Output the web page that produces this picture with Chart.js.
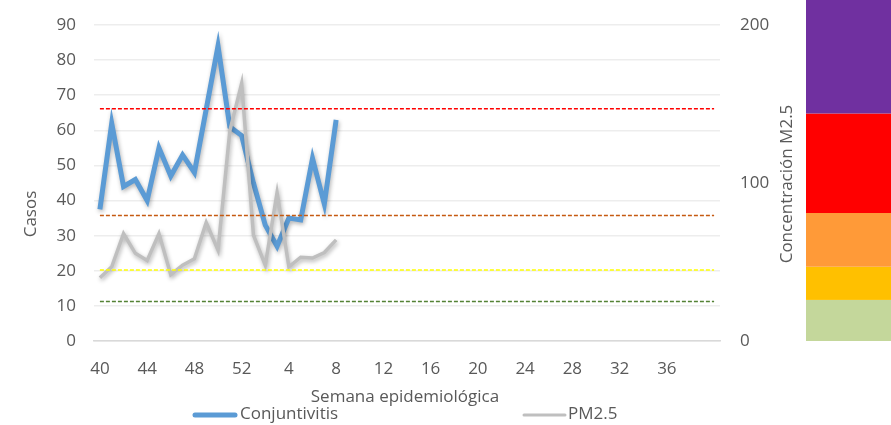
<!DOCTYPE html>
<html>
<head>
<meta charset="utf-8">
<script src="https://cdn.jsdelivr.net/npm/chart.js@4/dist/chart.umd.min.js"></script>
<style>
  html, body { margin: 0; padding: 0; background: #fff; }
  #wrap { position: relative; width: 891px; height: 425px; }
</style>
</head>
<body>
<div id="wrap"><canvas id="chart" width="891" height="425"></canvas></div>
<script>
// semanas epidemiologicas 40..52 y 1..40
const weeks = [40, 41, 42, 43, 44, 45, 46, 47, 48, 49, 50, 51, 52,
    1, 2, 3, 4, 5, 6, 7, 8, 9, 10, 11, 12, 13, 14, 15, 16, 17, 18, 19, 20,
    21, 22, 23, 24, 25, 26, 27, 28, 29, 30, 31, 32, 33, 34, 35, 36, 37, 38, 39, 40];

// casos de conjuntivitis (eje izquierdo)
const conjuntivitis = [37.5, 62, 44, 46, 40, 55, 47, 53, 48, 66, 84, 61, 58.5, 45, 33, 27, 35, 34.5, 52, 39, 63];

// concentracion PM2.5 (eje derecho)
const pm25 = [40, 47, 68, 55.5, 51, 68, 42, 48, 52, 75, 57.5, 133, 163, 67, 48, 94, 47, 53, 52.5, 56, 64];

// umbrales (eje derecho)
const umbralNames = ['rojo', 'naranja', 'amarillo', 'verde'];
const umbralValues = [147, 79.5, 45, 25];
const umbralColors = ['#FF0000', '#C55A11', '#FFFF00', '#548235'];

// franjas de color de la escala
const bandLimits = [0, 26, 47, 81, 144, 250];
const bandColors = ['#C4D79B', '#FFC000', '#FF9A38', '#FF0000', '#7030A0'];

const textColor = '#595959';
const fontFam = "'Open Sans', 'Noto Sans', sans-serif";

const datasets = [
    {
        label: 'Conjuntivitis',
        data: conjuntivitis,
        yAxisID: 'y',
        borderColor: '#5B9BD5',
        borderWidth: 5,
        pointRadius: 0,
        tension: 0,
        order: 3,
        shadow: true
    },
    {
        label: 'PM2.5',
        data: pm25,
        yAxisID: 'y2',
        borderColor: '#BFBFBF',
        borderWidth: 3.5,
        pointRadius: 0,
        tension: 0,
        order: 2,
        shadow: true
    }
];

umbralValues.forEach((v, i) => {
    datasets.push({
        label: umbralNames[i],
        data: weeks.map(() => v),
        yAxisID: 'y2',
        borderColor: umbralColors[i],
        borderWidth: 1.5,
        borderDash: [4, 2],
        pointRadius: 0,
        order: 1
    });
});

// sombra para las series principales
const shadowPlugin = {
    id: 'shadow',
    beforeDatasetDraw(chart, args) {
        const ds = chart.data.datasets[args.index];
        if (ds.shadow) {
            const ctx = chart.ctx;
            ctx.save();
            ctx.shadowColor = 'rgba(0,0,0,0.3)';
            ctx.shadowBlur = 4;
            ctx.shadowOffsetX = 1;
            ctx.shadowOffsetY = 2;
        }
    },
    afterDatasetDraw(chart, args) {
        const ds = chart.data.datasets[args.index];
        if (ds.shadow) chart.ctx.restore();
    }
};

// franjas, titulos de ejes y leyenda
const extrasPlugin = {
    id: 'extras',
    afterDraw(chart) {
        const ctx = chart.ctx;
        const y2 = chart.scales.y2;
        ctx.save();
        for (let i = 0; i < bandColors.length; i++) {
            const top = y2.getPixelForValue(bandLimits[i + 1]);
            const bot = y2.getPixelForValue(bandLimits[i]);
            ctx.fillStyle = bandColors[i];
            ctx.fillRect(806, top, 891 - 806, bot - top);
        }

        ctx.fillStyle = textColor;
        ctx.font = '17px ' + fontFam;
        ctx.textAlign = 'center';
        ctx.textBaseline = 'middle';

        ctx.save();
        ctx.translate(31, 214);
        ctx.rotate(-Math.PI / 2);
        ctx.fillText('Casos', 0, 0);
        ctx.restore();

        ctx.save();
        ctx.translate(787, 184);
        ctx.rotate(-Math.PI / 2);
        ctx.fillText('Concentración M2.5', 0, 0);
        ctx.restore();

        ctx.fillText('Semana epidemiológica', 405, 397);

        // leyenda
        ctx.lineCap = 'round';
        ctx.strokeStyle = '#5B9BD5';
        ctx.lineWidth = 5;
        ctx.beginPath(); ctx.moveTo(195, 415); ctx.lineTo(235, 415); ctx.stroke();
        ctx.strokeStyle = '#BFBFBF';
        ctx.lineWidth = 3;
        ctx.beginPath(); ctx.moveTo(524, 415); ctx.lineTo(565, 415); ctx.stroke();
        ctx.textAlign = 'left';
        ctx.fillText('Conjuntivitis', 240, 414);
        ctx.fillText('PM2.5', 568, 414);
        ctx.restore();
    }
};

new Chart(document.getElementById('chart'), {
    type: 'line',
    data: { labels: weeks, datasets },
    options: {
        responsive: false,
        animation: false,
        layout: { padding: { top: 25 } },
        plugins: {
            legend: { display: false },
            tooltip: { enabled: false }
        },
        scales: {
            x: {
                type: 'category',
                offset: true,
                grid: { display: false },
                border: { color: '#D9D9D9', width: 1.5 },
                ticks: {
                    autoSkip: false,
                    maxRotation: 0,
                    padding: 10,
                    color: textColor,
                    font: { family: fontFam, size: 17 },
                    callback: (v, i) => (i % 4 === 0 && i < 52) ? weeks[i] : ''
                },
                afterFit: s => { s.height = 84; s.paddingLeft = 0; s.paddingRight = 0; }
            },
            y: {
                position: 'left',
                min: 0,
                max: 90,
                ticks: {
                    stepSize: 10,
                    padding: 18,
                    color: textColor,
                    font: { family: fontFam, size: 17 }
                },
                grid: { color: '#EDEDED', lineWidth: 1.5, drawTicks: false },
                border: { display: false },
                afterFit: s => { s.width = 94; s.paddingTop = 0; s.paddingBottom = 0; }
            },
            y2: {
                position: 'right',
                min: 0,
                max: 200,
                ticks: {
                    stepSize: 100,
                    padding: 20,
                    color: textColor,
                    font: { family: fontFam, size: 17 }
                },
                grid: { display: false, drawTicks: false },
                border: { display: false },
                afterFit: s => { s.width = 171; s.paddingTop = 0; s.paddingBottom = 0; }
            }
        }
    },
    plugins: [shadowPlugin, extrasPlugin]
});
</script>
</body>
</html>
